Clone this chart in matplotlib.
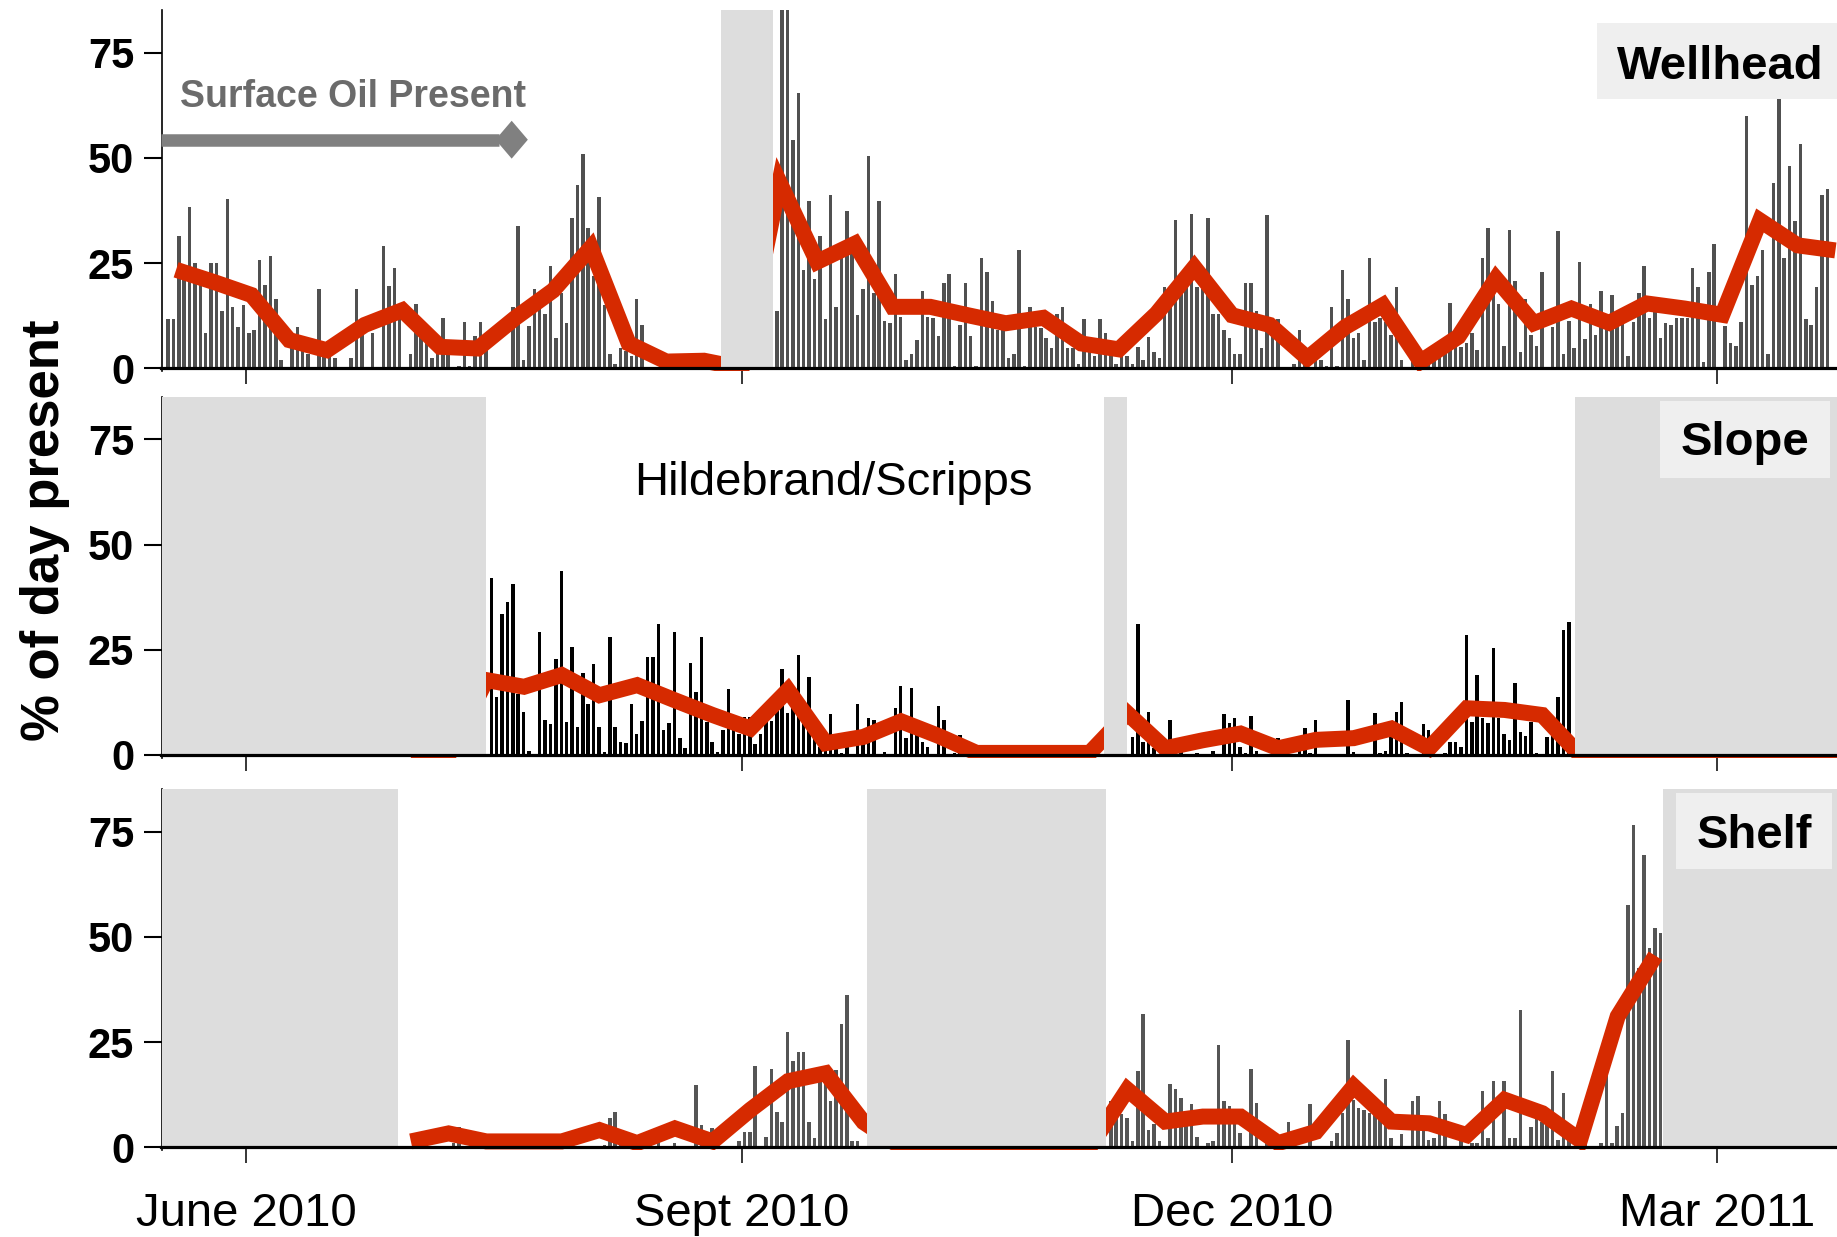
import numpy as np
import pandas as pd
import matplotlib
matplotlib.use('Agg')
import matplotlib.pyplot as plt
import matplotlib.dates as mdates
from matplotlib.patches import Rectangle

plt.rcParams['font.family'] = ['Liberation Sans', 'DejaVu Sans']

# ---------------- data ----------------
# daily % of day with clicks, Wellhead, from 2010-05-17
wellhead_start = '2010-05-17'
wellhead_daily = [
    11.7, 11.7, 31.5, 22, 38.3, 25.1, 22, 8.3, 25.1, 25.1,
    13.6, 40.2, 14.6, 9.7, 15, 8.3, 9.2, 25.7, 19.9, 26.6,
    16.5, 2, 0, 7, 9.7, 5, 3.5, 0, 18.9, 5,
    3, 2.4, 0, 0, 2.4, 18.9, 8, 0, 8.3, 0,
    29, 19.5, 23.8, 12, 0, 3.4, 15.2, 8.3, 6.7, 2.4,
    5, 12, 5, 0, 0.5, 11, 0.5, 7.7, 11, 5,
    0, 0, 0, 0, 14.6, 33.9, 2, 10, 18.9, 15,
    13, 24.2, 7.3, 17.8, 10.8, 35.8, 43.6, 50.8, 33.3, 22,
    40.6, 15, 3.4, 1, 4.9, 4, 3, 16.4, 10.3, 0,
    0, 0, 0, 0, 0, 0, 0, 0, 0, 0,
    0, 0, 0, 0, 0, 0, 0, 0, 0, 0,
    0, 0, 0, 13.6, 95, 90, 54.2, 65.3, 23.3, 39.7,
    21.3, 31.5, 11.7, 41.2, 14.6, 30.1, 37.3, 31, 12.6, 18.9,
    50.4, 18, 39.7, 11.2, 10.8, 22.3, 12.2, 2, 3.4, 6.7,
    18.4, 12.2, 12, 7.7, 20.3, 22.3, 0.5, 10.3, 20.3, 7.7,
    0.5, 26.2, 22.8, 15.9, 9, 9, 2.4, 3.4, 28, 0.5,
    14.6, 9.9, 9.5, 7.3, 4.9, 13, 14.6, 4.9, 4.9, 1,
    11.6, 5, 2.9, 11.6, 8.3, 4, 1, 4, 2.9, 1,
    5, 2, 7.5, 3.9, 2.4, 19.3, 15, 35.3, 22.3, 20,
    36.7, 19.3, 18.9, 35.8, 13, 13, 9.2, 7.3, 3.4, 3.4,
    20.3, 20.3, 13.6, 4.9, 36.3, 9, 11.6, 0, 0, 1,
    9.2, 2.5, 0, 3, 2, 0.5, 14.6, 0.5, 23.3, 16.5,
    7.3, 8.3, 2, 26.2, 11, 12, 11, 8, 19.3, 2,
    0, 2.4, 0, 0.5, 1, 2, 3, 4.7, 15.5, 5.9,
    5, 5.9, 8.3, 4.3, 26.2, 33.4, 20, 15.2, 5.4, 32.9,
    20.8, 3.9, 16.5, 8, 5.4, 22.8, 0, 9.9, 32.5, 3.4,
    11.2, 4.9, 25.2, 6.9, 15.2, 8, 18.4, 11, 17.5, 13.6,
    13.6, 2.9, 11, 17.9, 24.2, 12, 13.8, 7.3, 10.7, 10.3,
    12, 12, 12, 23.8, 19.3, 1.4, 22.8, 29.5, 0, 10,
    5.9, 5.4, 11, 60, 19.9, 21.9, 28.2, 3.4, 44, 64,
    26.2, 48, 34.9, 53.3, 11.6, 10.3, 19.3, 41.2, 42.5, 0,
]
wellhead_week_start = '2010-05-19'
wellhead_weekly = [23.4, 20.5, 17.4, 6.7, 4.3, 10.3, 13.8, 5.1, 4.7, 12,
                   18.5, 28.7, 5.9, 1.6, 1.8, 0, 44.2, 25.3, 29.6, 14.6,
                   14.6, 12.6, 10.7, 12, 5.9, 4.5, 13, 24, 12.6, 10.3,
                   2.4, 9.8, 15, 1.6, 7.5, 21.3, 10.7, 14.2, 10.8, 15.4,
                   14.2, 12.7, 35.1, 29.2, 28]

# Slope (Hildebrand/Scripps), daily from 2010-07-16
slope_start = '2010-07-16'
slope_daily = [
    42.1, 13.7, 33.4, 36.4, 40.7, 14.6, 10.3, 1, 0, 29.1,
    8.3, 7.3, 22.8, 43.6, 7.9, 25.7, 6.7, 19.4, 12, 21.7,
    6.7, 0.8, 28.1, 6.7, 3, 2.9, 12, 5, 8, 23.3,
    23.3, 31, 6, 7.7, 29.1, 4, 1.6, 21.9, 15, 28.1,
    7.9, 3, 0.6, 5.9, 15.6, 6.7, 5, 9.1, 9.1, 2.5,
    5, 11.5, 8, 11.5, 20.4, 10, 13, 23.7, 8, 18.6,
    4, 2, 1, 9.7, 1.6, 0.5, 2, 0, 12.1, 4,
    8.7, 8.3, 0, 0.6, 0, 11.1, 16.4, 4, 16, 5,
    3, 2, 0, 11.6, 8.3, 0, 0.5, 4.7, 0, 0,
    0, 0, 0, 0, 0, 0, 0, 0, 0, 0,
    0, 0, 0, 0, 0, 0, 0, 0, 0, 0,
    0, 0, 0, 0, 0, 0, 0, 0, 0,
    4.3, 31, 3, 10.3, 1.6, 0, 0.5, 8.3, 0, 1,
    0, 0, 0.5, 0, 0, 1, 0, 9.7, 7.5, 8.7,
    2, 0.5, 9.2, 1, 0, 0, 0.5, 4, 0, 0,
    0, 1, 6.3, 0.5, 8.3, 0, 0, 0, 0, 0,
    13, 0.8, 0, 0, 0, 9.9, 0.5, 1, 7.9, 10.3,
    12.6, 0.5, 0, 0, 7.3, 5.9, 0, 0, 0.5, 3.2,
    3.2, 2, 28.6, 7.9, 19, 8.7, 7.5, 25.3, 8.7, 5,
    3.6, 17, 5.5, 4.5, 7.9, 0.5, 0, 4.3, 5.9, 13.7,
    29.8, 31.5,
]
week_start_2 = '2010-07-01 14:00'
slope_weekly = [0, 0, 17.8, 16.2, 19, 14.2, 16.6, 13, 9.5, 6.3,
                15.4, 2.8, 4.3, 8, 4.5, 0.5, 0.5, 0.5, 0.5, 9.9,
                1.6, 3.5, 5.1, 1.6, 3.6, 4, 6.3, 1.6, 11.1, 10.7,
                9.5, 0, 0, 0, 0, 0, 0, 0, 0]

# Shelf, daily from 2010-07-01
shelf_start = '2010-07-01'
shelf_daily = [
    0, 0, 0, 0, 0, 0, 0, 0, 1, 4.9,
    0, 0, 0, 0, 0, 0, 0, 0, 0, 0,
    0, 0, 0, 0, 0, 0, 0, 0, 0, 0,
    0, 0, 0, 0, 0, 0, 0.5, 6.9, 8.3, 0.5,
    0, 0, 0, 0, 0, 0, 1.3, 0, 0, 1.1,
    0, 0, 0, 14.9, 5.3, 0, 4.5, 0, 0, 0,
    0, 1.6, 3.7, 3.7, 19.2, 0, 2.5, 18.6, 8.5, 6.1,
    27.3, 20.6, 22.6, 22.6, 6.1, 2.1, 15.7, 15.7, 10.9, 18.4,
    29.4, 36.1, 1.6, 1.6, 0, 15.3, 0, 0, 0, 0,
    0, 0, 0, 0, 0, 0, 0, 0, 0, 0,
    0, 0, 0, 0, 0, 0, 0, 0, 0, 0,
    0, 0, 0, 0, 0, 0, 0, 0, 0, 0,
    0, 0, 0, 0, 0, 0, 0, 0, 0, 0,
    10.9, 12.2, 8, 7, 1.6, 18.2, 31.7, 4, 5.6, 1.6,
    0, 15.1, 13.8, 11.7, 7.7, 10.3, 2.5, 0, 1, 1.6,
    24.4, 10.9, 9.7, 8.1, 3.3, 0, 18.6, 10.5, 0, 1,
    0, 0, 0, 5.9, 0, 0, 0, 10.3, 0, 0,
    0, 1.6, 3.3, 8.1, 25.4, 11.3, 9.3, 8.9, 8.1, 10.6,
    10.6, 16.2, 2.1, 0, 3.2, 0, 10.9, 12.2, 4.9, 1.7,
    2.1, 10.9, 7.9, 0, 0, 2.1, 0, 1.1, 1.1, 13.3,
    2.1, 15.8, 0, 15.8, 2.1, 2.1, 32.7, 0, 4.9, 8.1,
    6.1, 7.2, 18.2, 1.7, 12.9, 1.7, 0, 0, 1.7, 0,
    0, 1, 23.6, 1, 5.1, 8.1, 57.5, 76.6, 42.7, 69.4,
    47.4, 52.2, 50.9,
]
shelf_weekly = [1.4, 3.3, 1.4, 1.4, 1.4, 4.1, 1, 4.5, 1.4, 8.9,
                15.7, 17.6, 6, 0, 0, 0, 0, 0, 0, 13.7,
                6.1, 7.3, 7.3, 1, 3.7, 14.5, 6.1, 5.7, 2.9, 11.3,
                8.1, 1.7, 31.1, 45.5]

# periods without recordings
wellhead_gaps = [('2010-08-28 02:00', '2010-09-06 17:00')]
slope_gaps = [('2010-05-01', '2010-07-15 12:00'),
              ('2010-11-07 07:00', '2010-11-11 12:00'),
              ('2011-02-02 17:00', '2011-04-01')]
shelf_gaps = [('2010-05-01', '2010-06-29 05:00'),
              ('2010-09-24 05:00', '2010-11-07 14:00'),
              ('2011-02-19', '2011-04-01')]

tick_dates = ['2010-06-01', '2010-09-01', '2010-12-01', '2011-03-01']
tick_labels = ['June 2010', 'Sept 2010', 'Dec 2010', 'Mar 2011']

# ---------------- plot ----------------
W, H = 1837, 1237
fig = plt.figure(figsize=(W / 100, H / 100), dpi=100)

red = '#d62a00'
shade = '#dddddd'
ymin, ymax = -0.7, 85
left = 161.5 / W
width = 1 - left
ph = (ymax - ymin) * 4.21 / H
zeros_px = [368.3, 755, 1147.3]

panels = [
    ('Wellhead', wellhead_start, wellhead_daily, wellhead_week_start, wellhead_weekly, wellhead_gaps, '#505050'),
    ('Slope', slope_start, slope_daily, week_start_2, slope_weekly, slope_gaps, '#000000'),
    ('Shelf', shelf_start, shelf_daily, week_start_2, shelf_weekly, shelf_gaps, '#555555'),
]

axes = []
for i, (name, dstart, daily, wstart, weekly, gaps, bcol) in enumerate(panels):
    ax = fig.add_axes([left, 1 - (zeros_px[i] - ymin * 4.21) / H, width, ph])
    axes.append(ax)
    days = pd.date_range(dstart, periods=len(daily), freq='D') + pd.Timedelta(hours=12)
    ax.bar(days, daily, width=0.65, color=bcol, linewidth=0, zorder=2)
    wdays = pd.date_range(wstart, periods=len(weekly), freq='7D')
    ax.plot(wdays, weekly, color=red, lw=11.5, solid_joinstyle='miter',
            solid_capstyle='butt', zorder=3)
    for g0, g1 in gaps:
        ax.axvspan(pd.Timestamp(g0), pd.Timestamp(g1), ymin=-ymin / (ymax - ymin),
                   color=shade, lw=0, zorder=4)

    ax.set_xlim(pd.Timestamp('2010-05-16 07:00'), pd.Timestamp('2011-03-23 07:00'))
    ax.set_ylim(ymin, ymax)
    ax.set_yticks([0, 25, 50, 75])
    ax.set_xticks([pd.Timestamp(t) for t in tick_dates])
    ax.set_xticklabels(tick_labels if i == 2 else [])
    for s in ['top', 'right']:
        ax.spines[s].set_visible(False)
    ax.spines['bottom'].set_position(('data', 0))
    ax.spines['left'].set_linewidth(1.2)
    ax.spines['bottom'].set_linewidth(2.3)
    ax.spines['bottom'].set_zorder(5)
    ax.tick_params(axis='y', direction='out', length=12.7, width=1.5, pad=7, labelsize=30)
    ax.tick_params(axis='x', direction='out', length=11.5, width=1.1, pad=21, labelsize=34)
    for lab in ax.get_yticklabels():
        lab.set_fontweight('bold')

# annotations, top panel
ax0 = axes[0]
ax0.plot([pd.Timestamp('2010-05-16 07:00'), pd.Timestamp('2010-07-18')], [54.3, 54.3],
         color='#808080', lw=9, solid_capstyle='butt', zorder=3, clip_on=False)
cx = mdates.date2num(pd.Timestamp('2010-07-20 07:00'))
ax0.fill([cx - 3.0, cx, cx + 3.0, cx], [54.3, 58.8, 54.3, 49.8],
         color='#808080', lw=0, zorder=3)
ax0.text(pd.Timestamp('2010-05-19 16:00'), 62.1, 'Surface Oil Present', fontsize=27,
         fontweight='bold', color='#6b6b6b', ha='left', va='baseline')

axes[1].text(pd.Timestamp('2010-09-18 02:00'), 61.7, 'Hildebrand/Scripps', fontsize=34,
             ha='center', va='baseline', zorder=6)

# panel labels with grey boxes (pixel positions)
boxes = [('Wellhead', 1597, 1850, 23, 99, 1720.5, 79),
         ('Slope', 1660, 1829.5, 401, 478, 1745, 455),
         ('Shelf', 1676, 1832, 793, 869, 1754, 848.3)]
for txt, x0, x1, y0, y1, tx, ty in boxes:
    fig.add_artist(Rectangle((x0 / W, 1 - y1 / H), (x1 - x0) / W, (y1 - y0) / H,
                             transform=fig.transFigure, facecolor='#efefef',
                             edgecolor='none', zorder=5))
    fig.text(tx / W, 1 - ty / H, txt, fontsize=34, fontweight='bold',
             ha='center', va='baseline', zorder=6)

fig.text(45 / W, 1 - 530 / H, '% of day present', rotation=90, fontsize=38,
         fontweight='bold', ha='center', va='center')

fig.savefig('out.png', dpi=100)
